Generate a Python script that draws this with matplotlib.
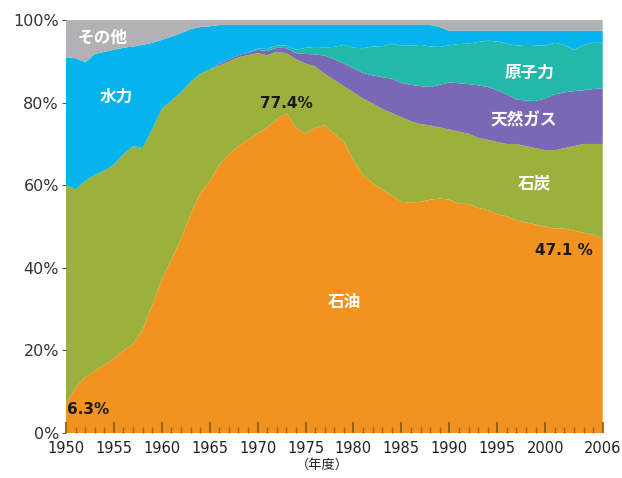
import numpy as np
import matplotlib
matplotlib.use('Agg')
import matplotlib.pyplot as plt
from matplotlib.ticker import MultipleLocator

plt.rcParams['font.family'] = ['DejaVu Sans', 'Noto Sans CJK JP']

years = np.arange(1950, 2007)

# 一次エネルギー供給の構成比 (%)
oil = [7.0, 11.0, 13.5, 15.0, 16.5, 18.0, 20.0, 21.5, 25.0, 31.0,
       37.0, 42.0, 47.0, 53.0, 58.0, 61.0, 65.0, 67.5, 69.5, 71.0,
       72.5, 74.0, 76.0, 77.4, 74.0, 72.5, 74.0, 74.5, 72.5, 70.5,
       66.0, 62.5, 60.5, 59.0, 57.5, 56.0, 55.8, 56.0, 56.5, 56.8,
       56.5, 55.5, 55.5, 54.5, 54.0, 53.0, 52.5, 51.5, 51.0, 50.5,
       50.0, 49.5, 49.5, 49.0, 48.5, 48.0, 47.1]
coal = [53.0, 48.0, 47.5, 47.5, 47.0, 47.0, 47.5, 48.0, 44.0, 42.5,
        41.5, 38.5, 35.5, 32.0, 29.0, 27.0, 24.0, 22.5, 21.5, 20.5,
        19.5, 17.5, 16.3, 14.6, 16.5, 17.0, 14.8, 12.5, 13.0, 13.5,
        16.5, 18.5, 19.3, 19.5, 20.0, 20.5, 19.7, 18.8, 18.0, 17.2,
        17.0, 17.5, 17.0, 17.0, 17.0, 17.5, 17.5, 18.5, 18.5, 18.5,
        18.5, 19.0, 19.5, 20.5, 21.5, 22.0, 22.9]
gas = [0.0, 0.0, 0.0, 0.0, 0.0, 0.0, 0.0, 0.0, 0.0, 0.0,
       0.0, 0.0, 0.0, 0.0, 0.0, 0.0, 0.4, 0.5, 0.5, 0.6,
       0.8, 1.0, 1.0, 1.2, 1.5, 2.3, 2.9, 4.4, 5.0, 5.5,
       5.8, 6.2, 6.8, 7.7, 8.3, 8.3, 8.8, 9.2, 9.3, 10.3,
       11.4, 11.7, 12.0, 12.7, 12.8, 12.5, 12.0, 10.8, 11.0, 11.4,
       12.5, 13.5, 13.5, 13.3, 13.0, 13.3, 13.5]
nuclear = [0.0, 0.0, 0.0, 0.0, 0.0, 0.0, 0.0, 0.0, 0.0, 0.0,
           0.0, 0.0, 0.0, 0.0, 0.0, 0.0, 0.0, 0.0, 0.0, 0.0,
           0.3, 0.5, 0.6, 0.6, 0.8, 1.5, 1.8, 2.0, 3.0, 4.5,
           5.0, 6.0, 7.0, 7.5, 8.5, 9.0, 9.5, 10.0, 9.8, 9.2,
           9.0, 9.5, 9.8, 10.5, 11.2, 11.8, 12.3, 13.0, 13.5, 13.5,
           12.8, 12.5, 11.5, 10.0, 11.0, 11.2, 11.0]
hydro = [31.0, 31.8, 28.8, 29.3, 28.8, 27.8, 25.8, 24.1, 25.0, 21.0,
         16.7, 15.5, 14.3, 12.8, 11.3, 10.5, 9.4, 8.3, 7.3, 6.7,
         5.7, 5.8, 4.9, 5.0, 6.0, 5.5, 5.3, 5.4, 5.3, 4.8,
         5.5, 5.6, 5.2, 5.1, 4.5, 5.0, 5.0, 4.8, 5.2, 4.8,
         3.5, 3.2, 3.1, 2.7, 2.4, 2.6, 3.1, 3.6, 3.4, 3.5,
         3.6, 2.9, 3.4, 4.6, 3.4, 2.9, 2.9]
other = [9.0, 9.2, 10.2, 8.2, 7.7, 7.2, 6.7, 6.4, 6.0, 5.5,
         4.8, 4.0, 3.2, 2.2, 1.7, 1.5, 1.2, 1.2, 1.2, 1.2,
         1.2, 1.2, 1.2, 1.2, 1.2, 1.2, 1.2, 1.2, 1.2, 1.2,
         1.2, 1.2, 1.2, 1.2, 1.2, 1.2, 1.2, 1.2, 1.2, 1.7,
         2.6, 2.6, 2.6, 2.6, 2.6, 2.6, 2.6, 2.6, 2.6, 2.6,
         2.6, 2.6, 2.6, 2.6, 2.6, 2.6, 2.6]

colors = ['#f29320', '#9bb13c', '#7a68b6', '#22b9aa', '#05b4ec', '#b2b1b3']
xticks = [1950, 1955, 1960, 1965, 1970, 1975, 1980, 1985, 1990, 1995, 2000, 2006]

fig = plt.figure(figsize=(6.22, 4.78), dpi=100)
ax = fig.add_axes([0.106, 0.094, 0.863, 0.864])

ax.stackplot(years, oil, coal, gas, nuclear, hydro, other,
             colors=colors, linewidth=0)

ax.set_xlim(1950, 2006)
ax.set_ylim(0, 100)
for s in ax.spines.values():
    s.set_visible(False)

ax.set_xticks(xticks)
ax.set_xticklabels([str(y) for y in xticks], fontsize=10.5, color='#222222')
ax.xaxis.set_minor_locator(MultipleLocator(1))
ax.tick_params(axis='x', which='major', direction='in', length=8, width=1.2,
               color='#8a5a10', pad=6)
ax.tick_params(axis='x', which='minor', direction='in', length=4, width=1,
               color='#a8661a')
ax.set_yticks([0, 20, 40, 60, 80, 100])
ax.set_yticklabels(['0%', '20%', '40%', '60%', '80%', '100%'], fontsize=11.5,
                   color='#333333')
ax.tick_params(axis='y', direction='out', length=3, color='#555555', pad=2)

fig.text(0.518, 0.027, '（年度）', ha='center', va='center', fontsize=9.5,
         family='Noto Sans CJK JP', color='#222222')

jp = dict(color='white', fontsize=12, family='Noto Sans CJK JP',
          fontweight='bold', ha='center', va='center')
ax.text(1953.8, 95.6, 'その他', **jp)
ax.text(1955.3, 81.4, '水力', **jp)
ax.text(1998.4, 87.2, '原子力', **jp)
ax.text(1997.8, 75.8, '天然ガス', **jp)
ax.text(1998.9, 60.5, '石炭', **jp)
ax.text(1979.0, 31.7, '石油', **jp)

num = dict(color='#1a1a1a', fontsize=11, fontweight='bold', va='center')
ax.text(1973.0, 79.7, '77.4%', ha='center', **num)
ax.text(2002.0, 44.1, '47.1 %', ha='center', **num)
ax.text(1950.1, 5.8, '6.3%', ha='left', **num)

fig.savefig('out.png', dpi=100)
